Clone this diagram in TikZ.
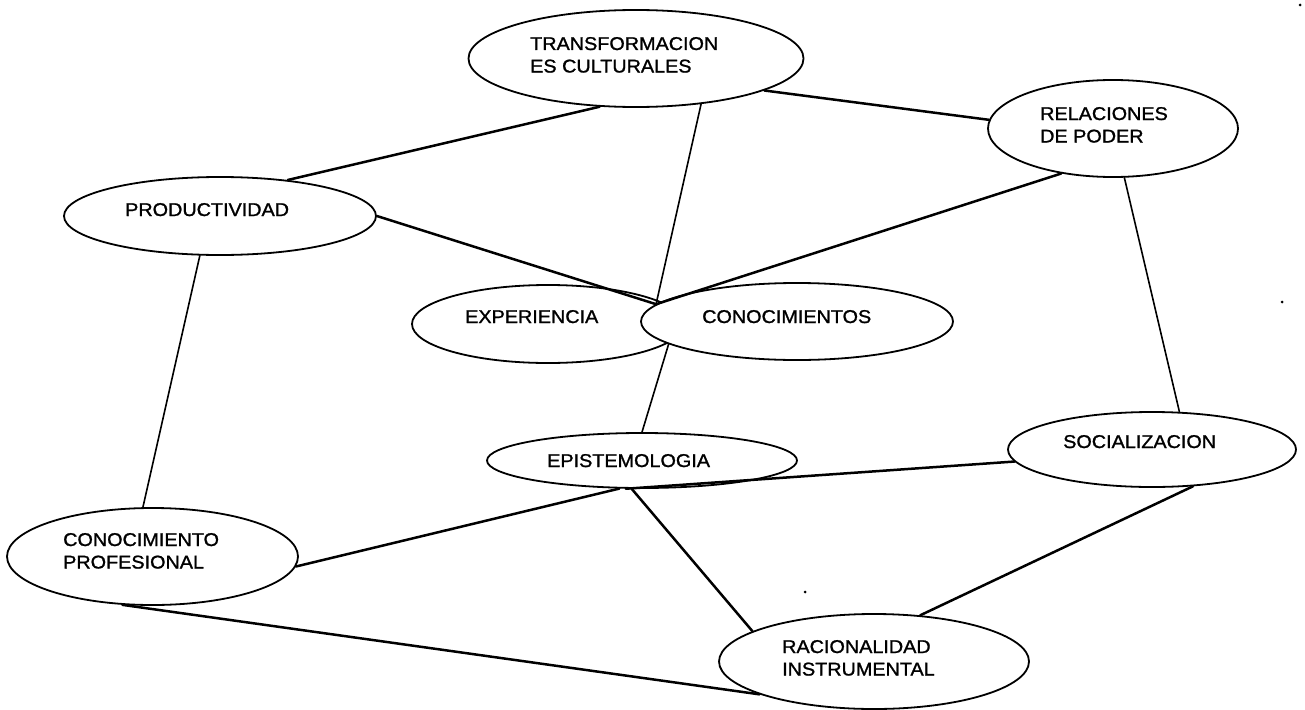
\documentclass[tikz,border=0pt]{standalone}
\usepackage{fontspec}
\setmainfont{Liberation Sans}[FakeStretch=1.07,FakeBold=1.2]
\usetikzlibrary{shapes.geometric}
\newcommand{\twolines}[2]{\begin{tabular}[t]{@{}l@{}}#1\\#2\end{tabular}}
\begin{document}
\begin{tikzpicture}[x=1pt,y=-1pt,
  ell/.style={draw, ellipse, line width=1.8pt, inner sep=0pt, fill=white},
  lbl/.style={anchor=base west, inner sep=0pt, font=\fontsize{18.5}{22.5}\selectfont},
  wire/.style={line width=2.5pt, line cap=round},
  thinwire/.style={line width=1.6pt, line cap=round}]
\fill[white] (0,0) rectangle (1305,709);
\useasboundingbox (0,0) rectangle (1305,709);

% ellipses
\node[ell, minimum width=335pt, minimum height=97pt] (trans) at (636,58.5) {};
\node[ell, minimum width=250pt, minimum height=97pt] (rel) at (1113,128.5) {};
\node[ell, minimum width=312pt, minimum height=78pt] (prod) at (220,216) {};
\node[ell, minimum width=272pt, minimum height=78pt] (exp) at (548,324) {};
\node[ell, minimum width=312pt, minimum height=77pt] (conoc) at (797,321.5) {};
\node[ell, minimum width=310pt, minimum height=55pt] (epist) at (642,460.5) {};
\node[ell, minimum width=288pt, minimum height=75pt] (soc) at (1152,449.5) {};
\node[ell, minimum width=291pt, minimum height=97pt] (cprof) at (152.5,556.5) {};
\node[ell, minimum width=310pt, minimum height=95pt] (rac) at (874,661.5) {};

% connectors
\draw[wire] (trans.233) -- (prod.28.6);
\draw[wire] (trans.346) -- (rel.176);
\draw[thinwire] (trans.325) -- (conoc.173);
\draw[wire] (prod.east) -- (conoc.173);
\draw[wire] (rel.221) -- (conoc.173);
\draw[thinwire] (rel.283) -- (soc.54);
\draw[thinwire] (conoc.190) -- (epist.north);
\draw[thinwire] (prod.243) -- (cprof.101);
\draw[wire] (epist.231) -- (cprof.356);
\draw[wire] (epist.240) -- (soc.185);
\draw[wire] (epist.250) -- (rac.166);
\draw[wire] (soc.318) -- (rac.45);
\draw[wire] (cprof.238.5) -- (rac.196);

% labels
\node[lbl] (transL) at (530,50) {\twolines{TRANSFORMACION}{ES CULTURALES}};
\node[lbl] (relL) at (1040,120) {\twolines{RELACIONES}{DE PODER}};
\node[lbl] (prodL) at (125,216) {PRODUCTIVIDAD};
\node[lbl] (expL) at (465,323) {EXPERIENCIA};
\node[lbl] (conocL) at (702,323) {CONOCIMIENTOS};
\node[lbl] (epistL) at (547,467) {EPISTEMOLOGIA};
\node[lbl] (socL) at (1063,448) {SOCIALIZACION};
\node[lbl] (cprofL) at (63,546) {\twolines{CONOCIMIENTO}{PROFESIONAL}};
\node[lbl] (racL) at (782,653) {\twolines{RACIONALIDAD}{INSTRUMENTAL}};

% scan specks
\fill (1300,5) circle (1.5pt);
\fill (1282,302) circle (1.5pt);
\fill (805,592) circle (1.5pt);
\end{tikzpicture}
\end{document}
